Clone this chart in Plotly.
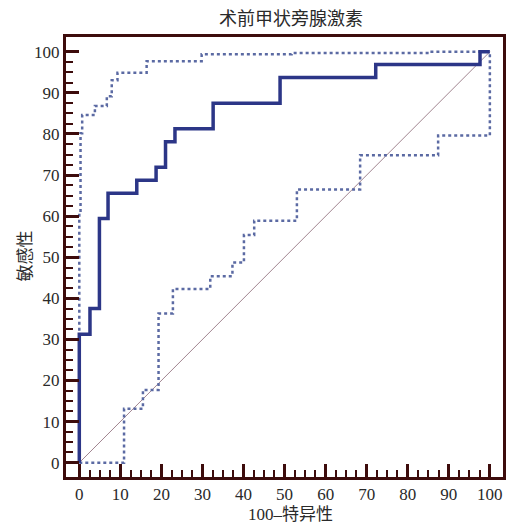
import plotly.graph_objects as go

# Main ROC curve (100-specificity, sensitivity)
roc_x = [0, 2.6, 4.9, 7.0, 14.0, 18.7, 21.0, 23.3, 32.6, 48.9, 72.2, 97.6, 100]
roc_y = [0, 31.25, 37.5, 59.4, 65.6, 68.75, 71.9, 78.1, 81.25, 87.5, 93.75, 96.9, 100]

# Upper confidence bound
up_x = [0, 0.3, 0.7, 3.8, 6.7, 7.9, 9.3, 16.4, 29.8, 51.7, 85.4, 100]
up_y = [0, 61, 80.2, 84.6, 86.8, 89.2, 93.1, 94.9, 97.7, 99.4, 99.7, 100]

# Lower confidence bound
lo_x = [0, 10.9, 15.5, 19.3, 22.8, 31.9, 37.3, 40.1, 42.6, 53.0, 68.4, 87.4, 100]
lo_y = [0, 13.1, 17.7, 36.3, 42.3, 45.4, 48.7, 55.4, 58.9, 66.5, 74.8, 79.6, 100]

diag = [0, 100]
tick_vals = [0, 10, 20, 30, 40, 50, 60, 70, 80, 90, 100]
minor_vals = [v * 2.5 for v in range(41) if v % 4 != 0]

title_text = "术前甲状旁腺激素"
x_title = "100–特异性"
y_title = "敏感性"

FRAME = "#3d0c0c"
SERIF = "Liberation Serif"
MIXED = "Liberation Serif, Noto Sans CJK SC"
CJK = "Noto Sans CJK SC"

fig = go.Figure()
fig.add_trace(go.Scatter(x=diag, y=diag, mode="lines",
                         line=dict(color="#a0848f", width=1), hoverinfo="skip"))
fig.add_trace(go.Scatter(x=lo_x, y=lo_y, mode="lines", line_shape="hv",
                         line=dict(color="#5b6aa3", width=2.5, dash="dot")))
fig.add_trace(go.Scatter(x=up_x, y=up_y, mode="lines", line_shape="vh",
                         line=dict(color="#5b6aa3", width=2.5, dash="dot")))
fig.add_trace(go.Scatter(x=roc_x, y=roc_y, mode="lines", line_shape="vh",
                         line=dict(color="#2c3687", width=3.5)))

axis_common = dict(
    showgrid=False, zeroline=False, automargin=False,
    showline=True, linecolor=FRAME, linewidth=3, mirror=True,
    ticks="inside", ticklen=13, tickwidth=3, tickcolor=FRAME,
    tickmode="array", tickvals=tick_vals,
    tickfont=dict(family=SERIF, size=17, color="#2a2a2a"),
    minor=dict(ticks="inside", ticklen=7, tickwidth=2, tickcolor=FRAME,
               tickmode="array", tickvals=minor_vals, showgrid=False),
)

fig.update_layout(
    width=507, height=525,
    margin=dict(l=66, r=4, t=37, b=48),
    paper_bgcolor="white", plot_bgcolor="white",
    showlegend=False,
    xaxis=dict(range=[-3.24, 103.2], **axis_common),
    yaxis=dict(range=[-3.48, 103.6], **axis_common),
    annotations=[
        dict(text=title_text, xref="paper", yref="paper", x=0.514, y=1.045,
             xanchor="center", yanchor="middle", showarrow=False,
             font=dict(family=CJK, size=18, color="#2a2a2a")),
        dict(text=x_title, xref="paper", yref="paper", x=0.514, y=-0.085,
             xanchor="center", yanchor="middle", showarrow=False,
             font=dict(family=MIXED, size=17, color="#2a2a2a")),
        dict(text=y_title, xref="paper", yref="paper", x=-0.096, y=0.501,
             xanchor="center", yanchor="middle", showarrow=False, textangle=-90,
             font=dict(family=CJK, size=17, color="#2a2a2a")),
    ],
)

fig.write_html("out.html", config={"displayModeBar": False},
               post_script="document.body.style.margin='0';document.body.style.overflow='hidden';")
